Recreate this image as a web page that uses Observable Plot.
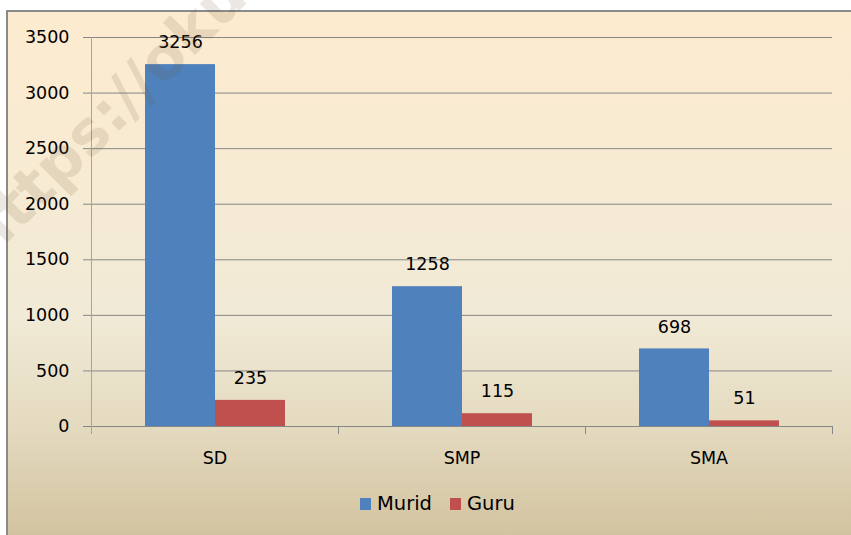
<!DOCTYPE html>
<html>
<head>
<meta charset="utf-8">
<script src="https://cdn.jsdelivr.net/npm/d3@7"></script>
<script src="https://cdn.jsdelivr.net/npm/@observablehq/plot@0.6"></script>
<style>
  html, body { margin: 0; padding: 0; background: #fff; }
  body { width: 851px; height: 535px; overflow: hidden; position: relative; font-family: "DejaVu Sans", sans-serif; }
  #frame { position: absolute; left: 6px; top: 10px; width: 900px; height: 525px;
    border-left: 2px solid #8a8a8a; border-top: 2px solid #8a8a8a;
    background: linear-gradient(to bottom, #FDEBCF 0%, #F7EBD3 30%, #F1EAD6 58%, #E3D9BE 80%, #D2C39F 100%); }
  #chart { position: absolute; left: 0; top: 0; }
  #legend { position: absolute; left: 360px; top: 492px; display: flex; align-items: center; font-size: 19.5px; color: #000; }
  #legend .sw { display: inline-block; width: 11px; height: 12px; margin-right: 6px; }
  #legend .item { display: flex; align-items: center; margin-right: 18px; }
  #wm { position: absolute; left: 0; top: 0; pointer-events: none; }
</style>
</head>
<body>
<div id="frame"></div>
<div id="chart"></div>
<div id="legend"></div>
<svg id="wm" width="851" height="535">
  <text x="-12" y="262" transform="rotate(-45 -12 262)" font-family="DejaVu Sans" font-weight="bold" font-size="60" fill="rgba(110,90,60,0.14)">https://okuk</text>
</svg>
<script>
const categories = ["SD", "SMP", "SMA"];
const series = ["Murid", "Guru"];
const murid = [3256, 1258, 698];
const guru = [235, 115, 51];
const yTicks = [0, 500, 1000, 1500, 2000, 2500, 3000, 3500];
const colors = ["#4F81BD", "#C0504D"];

const data = categories.flatMap((c, i) => [
  {cat: c, series: "Murid", value: murid[i]},
  {cat: c, series: "Guru", value: guru[i]}
]);

const chart = Plot.plot({
  width: 851,
  height: 480,
  marginLeft: 90,
  marginRight: 18,
  marginTop: 37,
  marginBottom: 54,
  style: {background: "transparent", fontFamily: "DejaVu Sans", fontSize: "17.5px", color: "#000", overflow: "visible"},
  fx: {domain: categories, padding: 0, label: null},
  x: {domain: series, paddingInner: 0, paddingOuter: 0.745, axis: null},
  y: {domain: [0, 3500], label: null},
  color: {domain: series, range: colors},
  marks: [
    Plot.ruleY(yTicks, {stroke: "#868686", strokeWidth: 1}),
    Plot.axisY(yTicks, {tickSize: 8, tickPadding: 14, stroke: "#868686", fill: "#000", fontSize: 17.5, label: null, tickFormat: d => String(d)}),
    Plot.axisFx({anchor: "bottom", tickSize: 0, tickPadding: 25, fontSize: 17.5, fill: "#000", label: null}),
    Plot.barY(data, {fx: "cat", x: "series", y: "value", fill: "series"}),
    Plot.text(data, {fx: "cat", x: "series", y: "value", text: d => String(d.value), dy: -22, fontSize: 17.5, fill: "#000"})
  ]
});
document.getElementById("chart").appendChild(chart);

// axis line and category boundary ticks from the library's scales
const fx = chart.scale("fx"), y = chart.scale("y");
const y0 = y.apply(0), yTop = y.apply(3500);
const edges = categories.map(c => fx.apply(c));
edges.push(fx.apply(categories[categories.length - 1]) + fx.bandwidth);
const g = d3.select(chart).append("g");
g.append("line").attr("x1", Math.round(edges[0]) + 0.5).attr("x2", Math.round(edges[0]) + 0.5)
  .attr("y1", yTop).attr("y2", y0 + 8).attr("stroke", "#a4a4a4");
edges.slice(1).forEach(e => {
  g.append("line").attr("x1", Math.round(e) + 0.5).attr("x2", Math.round(e) + 0.5)
    .attr("y1", y0).attr("y2", y0 + 8).attr("stroke", "#868686");
});

// legend
const legend = d3.select("#legend");
series.forEach((s, i) => {
  const item = legend.append("div").attr("class", "item");
  item.append("span").attr("class", "sw").style("background", colors[i]);
  item.append("span").text(s);
});
</script>
</body>
</html>
